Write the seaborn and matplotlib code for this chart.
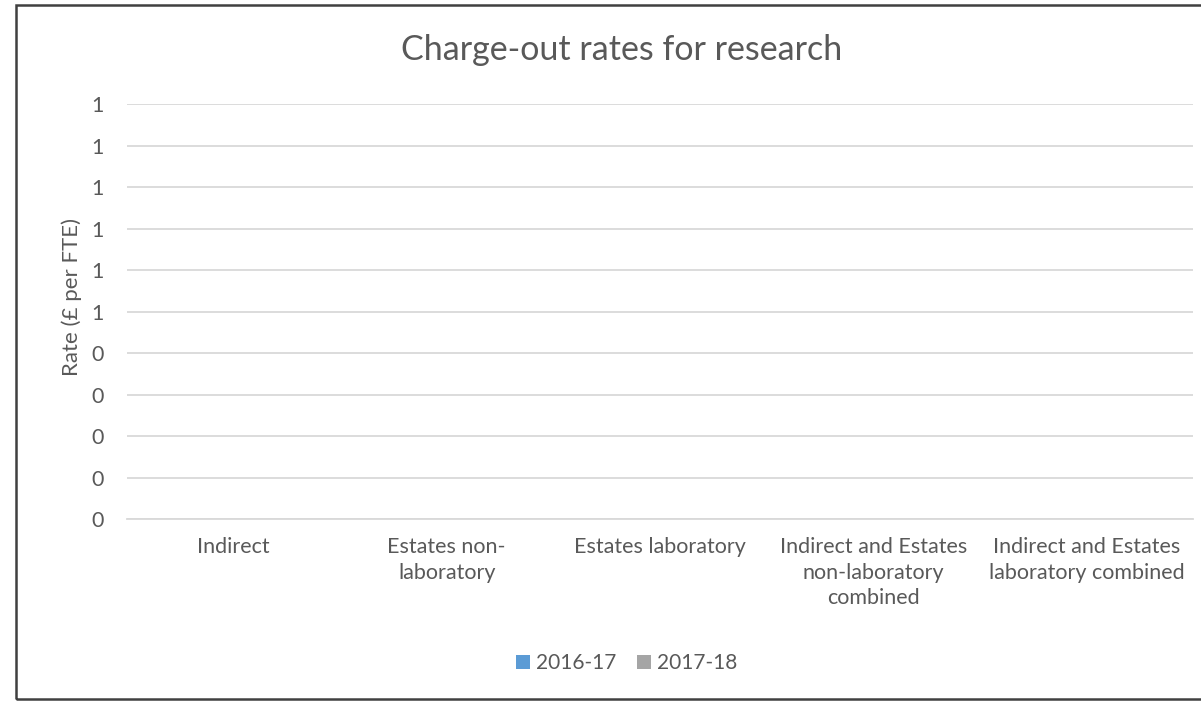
import numpy as np
import pandas as pd
import matplotlib
matplotlib.use('Agg')
import matplotlib.pyplot as plt
import seaborn as sns
from matplotlib.ticker import FuncFormatter
from matplotlib.patches import Rectangle, Patch

# Данные графика (все значения нулевые)
categories = ['Indirect', 'Estates non-\nlaboratory', 'Estates laboratory',
              'Indirect and Estates\nnon-laboratory\ncombined',
              'Indirect and Estates\nlaboratory combined']
years = ['2016-17', '2017-18']
rates_2016 = [0, 0, 0, 0, 0]
rates_2017 = [0, 0, 0, 0, 0]
colors = ['#5B9BD5', '#A5A5A5']

df = pd.DataFrame({
    'category': categories * 2,
    'year': [years[0]] * 5 + [years[1]] * 5,
    'rate': rates_2016 + rates_2017,
})

sns.set_style('white')
plt.rcParams['font.family'] = ['Lato', 'DejaVu Sans']
text_col = '#595959'

fig = plt.figure(figsize=(12.01, 7.01), dpi=100)
ax = fig.add_axes([0.1057, 0.2596, 0.8876, 0.592])

sns.barplot(data=df, x='category', y='rate', hue='year', palette=colors,
            ax=ax, legend=False, width=0.6)

ax.set_ylim(0, 1)
ax.set_yticks(np.linspace(0, 1, 11))
ax.yaxis.set_major_formatter(FuncFormatter(lambda v, p: str(int(np.floor(v + 0.5 + 1e-9)))))
ax.grid(axis='y', color='#D9D9D9', linewidth=1.3)
ax.set_axisbelow(True)
for s in ['top', 'right', 'left']:
    ax.spines[s].set_visible(False)
ax.spines['bottom'].set_color('#D9D9D9')
ax.spines['bottom'].set_linewidth(1.3)
ax.tick_params(axis='y', length=0, pad=17, labelsize=15.5, labelcolor=text_col)
ax.tick_params(axis='x', length=0, pad=13, labelsize=15.5, labelcolor=text_col)
for lab in ax.get_xticklabels():
    lab.set_linespacing(1.35)
ax.set_xlabel('')
ax.set_ylabel('Rate (£ per FTE)', fontsize=16, color=text_col)
ax.yaxis.set_label_coords(-0.042, 0.535)

fig.text(0.518, 0.928, 'Charge-out rates for research', ha='center', va='center',
         fontsize=24.5, color=text_col)

handles = [Patch(facecolor=c, edgecolor='none') for c in colors]
fig.legend(handles, years, loc='center', bbox_to_anchor=(0.522, 0.054), ncol=2,
           frameon=False, fontsize=15, labelcolor=text_col, handlelength=0.65,
           handleheight=0.65, handletextpad=0.3, columnspacing=1.0)

# рамка вокруг графика
fig.patches.append(Rectangle((0.0135, 0.003), 1.1, 0.99, transform=fig.transFigure,
                             fill=False, edgecolor='#404040', linewidth=1.8))

fig.savefig('out.png', dpi=100)
